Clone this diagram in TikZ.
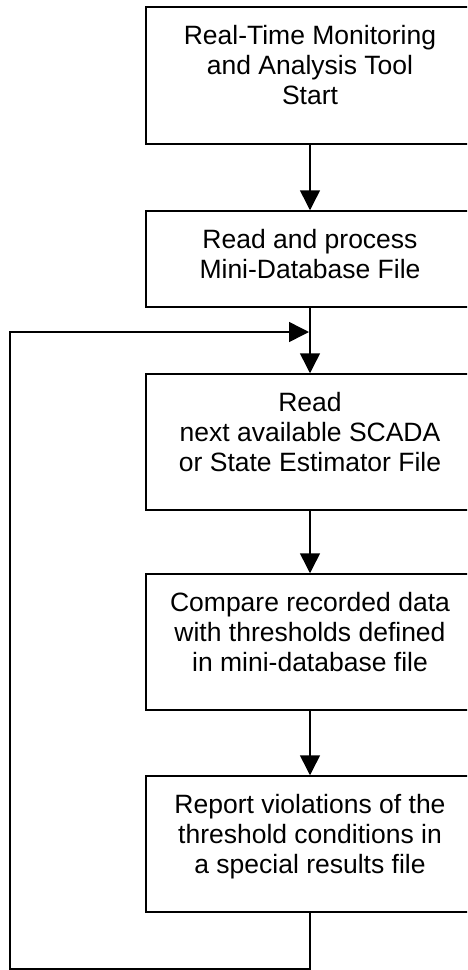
\documentclass[tikz,border=0pt]{standalone}
\usepackage{fontspec}
\setmainfont{Liberation Sans}
\usetikzlibrary{arrows.meta,calc}
\begin{document}
\begin{tikzpicture}[x=1pt,y=-1pt,
  box/.style={draw, line width=1.5pt, minimum width=328pt, inner sep=0pt},
  lbl/.style={anchor=north, align=center, inner sep=0pt, font=\fontsize{26.5}{30}\selectfont},
  flow/.style={line width=1.5pt, line join=miter, -{Triangle[width=20pt,length=20pt]}}]
\clip (0,0) rectangle (467,970);
\node[box, minimum height=137pt] (b1) at (310,75.5) {};
\node[box, minimum height=96pt]  (b2) at (310,259) {};
\node[box, minimum height=136pt] (b3) at (310,442) {};
\node[box, minimum height=136pt] (b4) at (310,642) {};
\node[box, minimum height=136pt] (b5) at (310,844) {};
\node[lbl] (t1) at ($(b1.north)+(0,18.5)$) {Real-Time Monitoring\\and Analysis Tool\\Start};
\node[lbl] (t2) at ($(b2.north)+(0,18.5)$) {Read and process\\Mini-Database File};
\node[lbl] (t3) at ($(b3.north)+(0,18.5)$) {Read\\next available SCADA\\or State Estimator File};
\node[lbl] (t4) at ($(b4.north)+(0,18.5)$) {Compare recorded data\\with thresholds defined\\in mini-database file};
\node[lbl] (t5) at ($(b5.north)+(0,18.5)$) {Report violations of the\\threshold conditions in\\a special results file};
\draw[flow] (b1) -- (b2);
\draw[flow] (b2) -- (b3);
\draw[flow] (b3) -- (b4);
\draw[flow] (b4) -- (b5);
\coordinate (c1) at (310,969);
\coordinate (c2) at (10,969);
\coordinate (c3) at (10,332);
\coordinate (c4) at (309,332);
\draw[flow] (b5) -- (c1) -- (c2) -- (c3) -- (c4);
\end{tikzpicture}
\end{document}
